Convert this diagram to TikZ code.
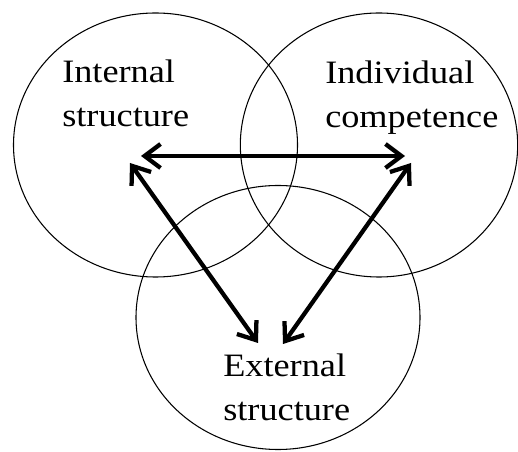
\documentclass[tikz,border=0pt]{standalone}
\usepackage{fontspec}
\setmainfont[FakeStretch=1.11]{Liberation Serif}
\usetikzlibrary{arrows.meta,shapes.geometric}
\begin{document}
\begin{tikzpicture}[x=0.75pt,y=-0.75pt,
  ring/.style={draw=black,line width=0.8pt,ellipse,inner sep=0pt,minimum width=213pt,minimum height=198pt},
  lbl/.style={align=left,inner sep=0pt,anchor=base west,font=\fontsize{24.5}{33}\selectfont},
  link/.style={line width=3.2pt,{Straight Barb[length=12pt,width=18pt]}-{Straight Barb[length=12pt,width=18pt]}}]
\useasboundingbox (0,0) rectangle (518,452);
\node[ring] (L) at (155.5,145) {};
\node[ring,minimum width=208pt] (R) at (379,145) {};
\node[ring] (B) at (278,317.5) {};
\node[lbl] (tL) at (62,127) {Internal\\structure};
\node[lbl] (tR) at (325,128) {Individual\\competence};
\node[lbl] (tB) at (223,421) {External\\structure};
\coordinate (a) at (141,156);
\coordinate (b) at (405,156);
\coordinate (c) at (130,163);
\coordinate (d) at (258,343);
\coordinate (e) at (411,163);
\coordinate (f) at (283,344);
\draw[link] (a) -- (b);
\draw[link] (c) -- (d);
\draw[link] (e) -- (f);
\end{tikzpicture}
\end{document}
